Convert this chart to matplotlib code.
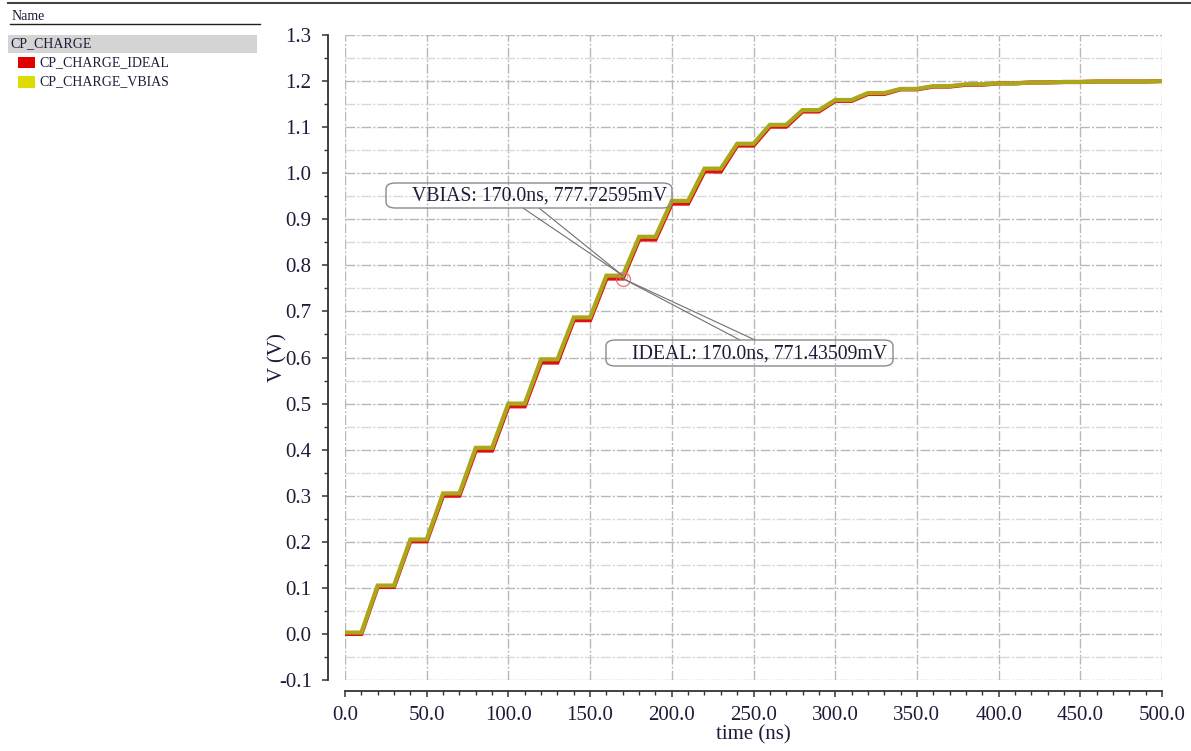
import matplotlib
matplotlib.use("Agg")
import matplotlib.pyplot as plt
from matplotlib.patches import Rectangle, FancyBboxPatch
from matplotlib.lines import Line2D
from matplotlib.ticker import MultipleLocator, FormatStrFormatter

# ---------------- data ----------------
# plateau levels (V), each plateau starts every 20 ns and lasts 10 ns, then 10 ns rise
period_ns = 20
vbias_levels = [0.003, 0.105, 0.205, 0.305, 0.404, 0.500, 0.596, 0.687, 0.7777,
                0.862, 0.940, 1.010, 1.064, 1.105, 1.137, 1.159, 1.174, 1.183,
                1.189, 1.193, 1.195, 1.197, 1.198, 1.199, 1.199, 1.200]
ideal_levels = [0.000, 0.102, 0.201, 0.300, 0.398, 0.494, 0.589, 0.681, 0.7714,
                0.856, 0.934, 1.004, 1.060, 1.101, 1.134, 1.157, 1.172, 1.182,
                1.188, 1.192, 1.195, 1.197, 1.198, 1.199, 1.199, 1.200]
marker_t = 170.0
marker_vbias = 0.77772595
marker_ideal = 0.77143509
xticks = [0, 50, 100, 150, 200, 250, 300, 350, 400, 450, 500]
yticks = [-0.1, 0.0, 0.1, 0.2, 0.3, 0.4, 0.5, 0.6, 0.7, 0.8, 0.9, 1.0, 1.1, 1.2, 1.3]


def stair(levels):
    t, v = [], []
    for k, lv in enumerate(levels):
        t0 = k * period_ns
        t.append(t0); v.append(lv)
        if t0 + 10 <= 500:
            t.append(t0 + 10); v.append(lv)
    return t, v

W, H = 1191, 751
fig = plt.figure(figsize=(W / 100, H / 100), dpi=100)
plt.rcParams['font.family'] = ['Liberation Serif', 'DejaVu Serif']
txtcol = '#1c1c3a'

ax = fig.add_axes([345 / W, 1 - 680 / H, (1162 - 345) / W, (680 - 35) / H])
ax.set_xlim(0, 500)
ax.set_ylim(-0.1, 1.3)

ti, vi = stair(ideal_levels)
tv, vv = stair(vbias_levels)
ax.plot(ti, vi, color='#e01010', lw=3.0, solid_joinstyle='miter', zorder=3)
ax.plot(tv, vv, color='#aaa81a', lw=3.0, solid_joinstyle='miter', zorder=4)

# markers
ax.plot([marker_t], [marker_ideal], 'o', ms=10, mfc='none', mec='#e06060', mew=1.0, alpha=0.8, zorder=5)
ax.plot([marker_t], [marker_vbias], 'o', ms=6, mfc='none', mec='#e08080', mew=0.8, alpha=0.7, zorder=5)

# grid
dash = (0, (7, 1.5, 1.5, 1.5))
ax.xaxis.set_major_locator(MultipleLocator(50))
ax.xaxis.set_minor_locator(MultipleLocator(10))
ax.yaxis.set_major_locator(MultipleLocator(0.1))
ax.yaxis.set_minor_locator(MultipleLocator(0.05))
ax.set_xticks(xticks)
ax.set_yticks(yticks)
ax.xaxis.set_major_formatter(FormatStrFormatter('%.1f'))
ax.yaxis.set_major_formatter(FormatStrFormatter('%.1f'))
ax.grid(which='major', axis='both', color='#b8b8b8', lw=1.0, linestyle=dash)
ax.yaxis.grid(which='minor', color='#d8d8d8', lw=1.0, linestyle=dash)
ax.set_axisbelow(True)

for s in ['top', 'right']:
    ax.spines[s].set_visible(False)
ax.spines['left'].set_position(('outward', 12))
ax.spines['bottom'].set_position(('outward', 8))
for s in ['left', 'bottom']:
    ax.spines[s].set_color('#333333')
    ax.spines[s].set_linewidth(1.3)
ax.tick_params(which='major', direction='out', length=4, width=1.1, color='#333333',
               labelsize=15, labelcolor=txtcol)
ax.tick_params(which='minor', direction='out', length=3, width=1.0, color='#333333')
ax.tick_params(axis='y', pad=8)
ax.tick_params(axis='x', pad=7)
ax.set_xlabel('time (ns)', fontsize=15, color=txtcol, labelpad=0)
ax.set_ylabel('V (V)', fontsize=15, color=txtcol, labelpad=-6)

# annotations
def fpx(x, y):
    return (x, H - y)

for (bx, by) in [(523, 208), (539, 208)]:
    ax.annotate('', xy=(marker_t, marker_vbias), xytext=fpx(bx, by), textcoords='figure pixels',
                arrowprops=dict(arrowstyle='-', color='#707070', lw=0.8, shrinkA=0, shrinkB=0), zorder=6)
for (bx, by) in [(740, 340), (755, 340)]:
    ax.annotate('', xy=(marker_t, marker_ideal), xytext=fpx(bx, by), textcoords='figure pixels',
                arrowprops=dict(arrowstyle='-', color='#707070', lw=0.8, shrinkA=0, shrinkB=0), zorder=6)

def box(x0, y0, x1, y1):
    p = FancyBboxPatch((x0 / W, 1 - y1 / H), (x1 - x0) / W, (y1 - y0) / H,
                       boxstyle='round,pad=0,rounding_size=0.008', transform=fig.transFigure,
                       fc='none', ec='#8a8a8a', lw=1.0)
    fig.add_artist(p)

box(386, 183, 672, 208)
fig.text(412 / W, 1 - 196 / H, 'VBIAS: 170.0ns, 777.72595mV', fontsize=14.2, color=txtcol,
         ha='left', va='center')
box(606, 340, 893, 366)
fig.text(632 / W, 1 - 354 / H, 'IDEAL: 170.0ns, 771.43509mV', fontsize=14.2, color=txtcol,
         ha='left', va='center')

# left legend panel
fig.add_artist(Line2D([8 / W, 1.0], [1 - 3 / H, 1 - 3 / H], color='#444444', lw=1.5, transform=fig.transFigure))
fig.text(12 / W, 1 - 16 / H, 'Name', fontsize=10, color=txtcol, ha='left', va='center')
fig.add_artist(Line2D([10 / W, 260 / W], [1 - 24 / H, 1 - 24 / H], color='#222222', lw=1.0, transform=fig.transFigure))
fig.add_artist(Rectangle((8 / W, 1 - 53 / H), (257 - 8) / W, 18 / H, transform=fig.transFigure,
                         fc='#d4d4d4', ec='none'))
fig.text(10 / W, 1 - 44 / H, 'CP_CHARGE', fontsize=10, color=txtcol, ha='left', va='center')
fig.add_artist(Rectangle((18 / W, 1 - 68 / H), 17 / W, 11 / H, transform=fig.transFigure,
                         fc='#e00000', ec='none'))
fig.text(39 / W, 1 - 63 / H, 'CP_CHARGE_IDEAL', fontsize=10, color=txtcol, ha='left', va='center')
fig.add_artist(Rectangle((18 / W, 1 - 88 / H), 17 / W, 12 / H, transform=fig.transFigure,
                         fc='#dcdc00', ec='none'))
fig.text(39 / W, 1 - 82 / H, 'CP_CHARGE_VBIAS', fontsize=10, color=txtcol, ha='left', va='center')

fig.savefig('out.png', dpi=100)
